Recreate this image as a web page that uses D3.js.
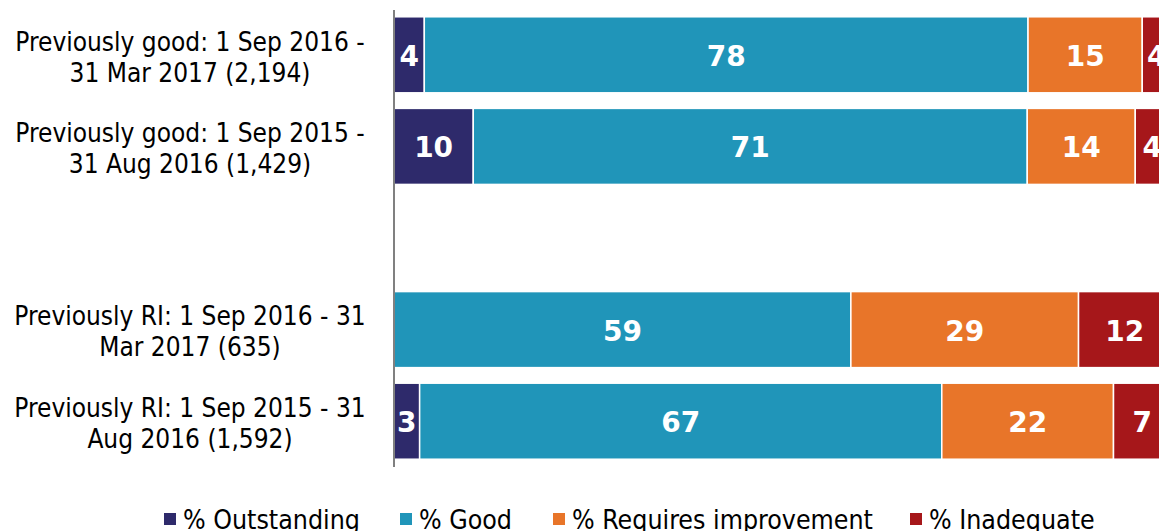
<!DOCTYPE html>
<html>
<head>
<meta charset="utf-8">
<script src="https://cdn.jsdelivr.net/npm/d3@7"></script>
<style>
  html, body { margin: 0; padding: 0; background: #fff; }
  svg { display: block; }
  .cat { font-family: "DejaVu Sans Condensed", "DejaVu Sans", sans-serif; font-stretch: condensed; font-size: 26px; fill: #000; }
  .val { font-family: "DejaVu Sans", sans-serif; font-weight: bold; font-size: 28px; fill: #fff; }
  .leg { font-family: "DejaVu Sans Condensed", "DejaVu Sans", sans-serif; font-stretch: condensed; font-size: 26.5px; fill: #000; }
</style>
</head>
<body>
<svg id="chart" width="1159" height="531"></svg>
<script>
// categories (top to bottom), the empty one is the gap between the two groups
var categories = [
  ["Previously good: 1 Sep 2016 -", "31 Mar 2017 (2,194)"],
  ["Previously good: 1 Sep 2015 -", "31 Aug 2016 (1,429)"],
  [],
  ["Previously RI: 1 Sep 2016 - 31", "Mar 2017 (635)"],
  ["Previously RI: 1 Sep 2015 - 31", "Aug 2016 (1,592)"]
];
var seriesNames = ["% Outstanding", "% Good", "% Requires improvement", "% Inadequate"];
var seriesColors = ["#2e2a6b", "#2095b9", "#e87529", "#a6171a"];

// percentages per row, in series order (null = empty gap row)
var outstanding = [3.9, 10.2, null, 0, 3.3];
var good        = [77.7, 71.3, null, 58.8, 67.2];
var requiresImp = [14.7, 13.9, null, 29.3, 22.1];
var inadequate  = [3.7, 4.4, null, 11.9, 7.4];

var series = [outstanding, good, requiresImp, inadequate];

var svg = d3.select("#chart");
var x0 = 394;

var x = d3.scaleLinear().domain([0, 100]).range([x0, x0 + 777]);
var y = d3.scaleBand()
    .domain(d3.range(categories.length))
    .range([9, 467])
    .paddingInner(0.17)
    .paddingOuter(0.085);

var fmt = d3.format(".0f");

// stacked segments
categories.forEach(function(cat, i) {
  var acc = 0;
  series.forEach(function(s, j) {
    var v = s[i];
    if (v == null || v === 0) return;
    var start = acc;
    acc += v;
    var g = svg.append("g");
    g.append("rect")
      .attr("x", x(start))
      .attr("y", y(i))
      .attr("width", x(acc) - x(start))
      .attr("height", y.bandwidth())
      .attr("fill", seriesColors[j])
      .attr("stroke", "#fff")
      .attr("stroke-width", 1.5);
    g.append("text")
      .attr("class", "val")
      .attr("x", (x(start) + x(acc)) / 2)
      .attr("y", y(i) + y.bandwidth() / 2 + 1)
      .attr("dy", "0.36em")
      .attr("text-anchor", "middle")
      .text(fmt(v));
  });
});

// category labels
categories.forEach(function(lines, i) {
  if (!lines.length) return;
  var cy = y(i) + y.bandwidth() / 2 + 2;
  var t = svg.append("text")
    .attr("class", "cat")
    .attr("text-anchor", "middle");
  lines.forEach(function(line, k) {
    t.append("tspan")
      .attr("x", 190)
      .attr("y", cy + (k - (lines.length - 1) / 2) * 31)
      .attr("dy", "0.36em")
      .text(line);
  });
});

// vertical axis line
svg.append("line")
  .attr("x1", x0).attr("x2", x0)
  .attr("y1", 10).attr("y2", 467)
  .attr("stroke", "#808080")
  .attr("stroke-width", 2);

// legend
var legendX = [164, 400, 553, 910];
var legend = svg.append("g").attr("transform", "translate(0,519)");
seriesNames.forEach(function(name, j) {
  legend.append("rect")
    .attr("x", legendX[j])
    .attr("y", -6)
    .attr("width", 12)
    .attr("height", 12)
    .attr("fill", seriesColors[j]);
  legend.append("text")
    .attr("class", "leg")
    .attr("x", legendX[j] + 19)
    .attr("y", 0)
    .attr("dy", "0.36em")
    .text(name);
});
</script>
</body>
</html>
